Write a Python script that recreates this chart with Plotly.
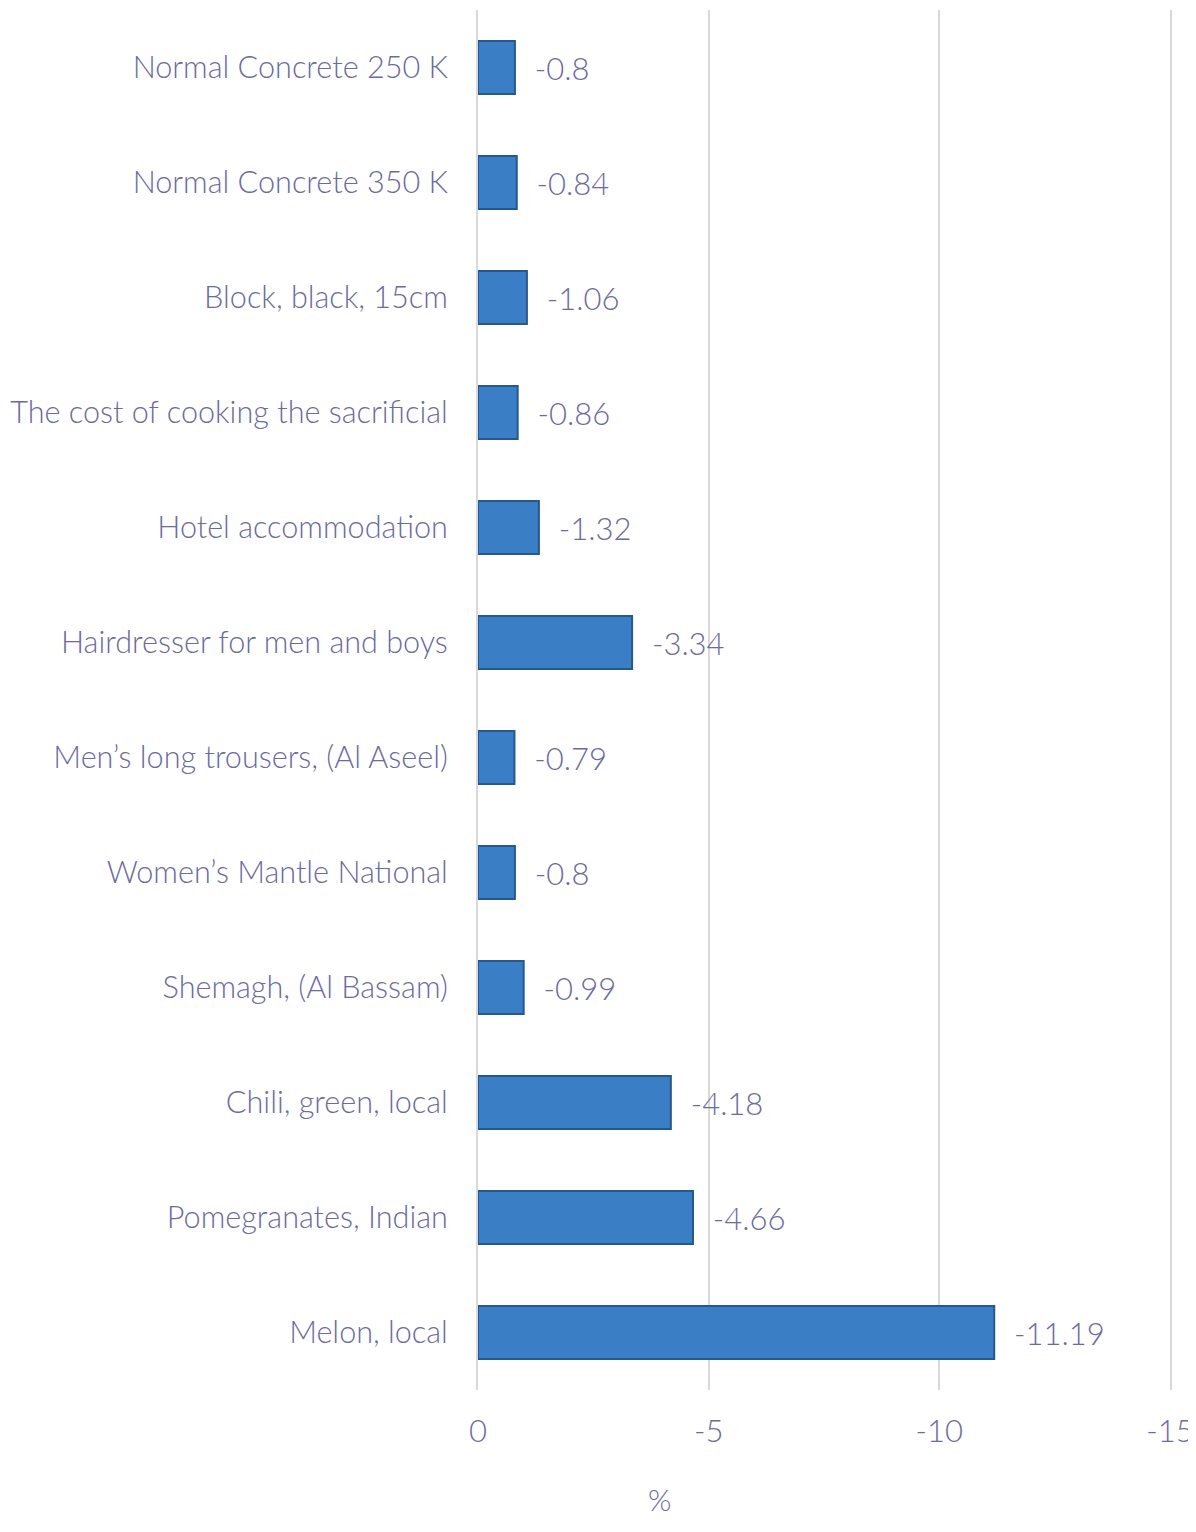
import plotly.graph_objects as go

categories = [
    "Normal Concrete 250 K",
    "Normal Concrete 350 K",
    "Block, black, 15cm",
    "The cost of cooking the sacrificial",
    "Hotel accommodation",
    "Hairdresser for men and boys",
    "Men’s long trousers, (Al Aseel)",
    "Women’s Mantle National",
    "Shemagh, (Al Bassam)",
    "Chili, green, local",
    "Pomegranates, Indian",
    "Melon, local",
]
values = [-0.8, -0.84, -1.06, -0.86, -1.32, -3.34, -0.79, -0.8, -0.99, -4.18, -4.66, -11.19]
labels = ["-0.8", "-0.84", "-1.06", "-0.86", "-1.32", "-3.34", "-0.79", "-0.8", "-0.99", "-4.18", "-4.66", "-11.19"]
tick_vals = [0, -5, -10, -15]
tick_text = ["0", "-5", "-10", "-15"]

txt = "#6b6b9e"
font_family = "Lato"
fsize = 30.6
grid = "#d9d9d9"

fig = go.Figure()
fig.add_trace(go.Bar(
    y=categories, x=values, orientation="h",
    marker=dict(color="#3a7fc6", line=dict(color="#25588f", width=2)),
    width=0.46,
    text=labels, texttemplate="  %{text}", textposition="outside", cliponaxis=False,
    textfont=dict(family=font_family, size=31, color=txt, weight=300),
))

fig.add_annotation(
    text="%", xref="paper", yref="paper", x=0.263, y=-0.079,
    xanchor="center", yanchor="middle", showarrow=False,
    font=dict(family=font_family, size=30, color=txt, weight=300),
)

fig.update_layout(
    width=1188, height=1516,
    margin=dict(l=470, r=26, t=2, b=134, autoexpand=False),
    plot_bgcolor="white", paper_bgcolor="white",
    showlegend=False,
    font=dict(family=font_family, color=txt, size=fsize, weight=300),
    xaxis=dict(
        range=[0, -15], tickvals=tick_vals, ticktext=tick_text,
        showgrid=True, gridcolor=grid, gridwidth=2,
        zeroline=False, showline=False, ticks="",
        ticklabelstandoff=20, automargin=False,
        tickfont=dict(family=font_family, size=31, color=txt, weight=300),
    ),
    yaxis=dict(
        autorange="reversed", showgrid=False, zeroline=False, ticks="",
        showline=True, mirror=True, linecolor=grid, linewidth=2,
        ticklabelstandoff=22, automargin=False,
        tickfont=dict(family=font_family, size=fsize, color=txt, weight=300),
    ),
)

fig.write_html("out.html")
